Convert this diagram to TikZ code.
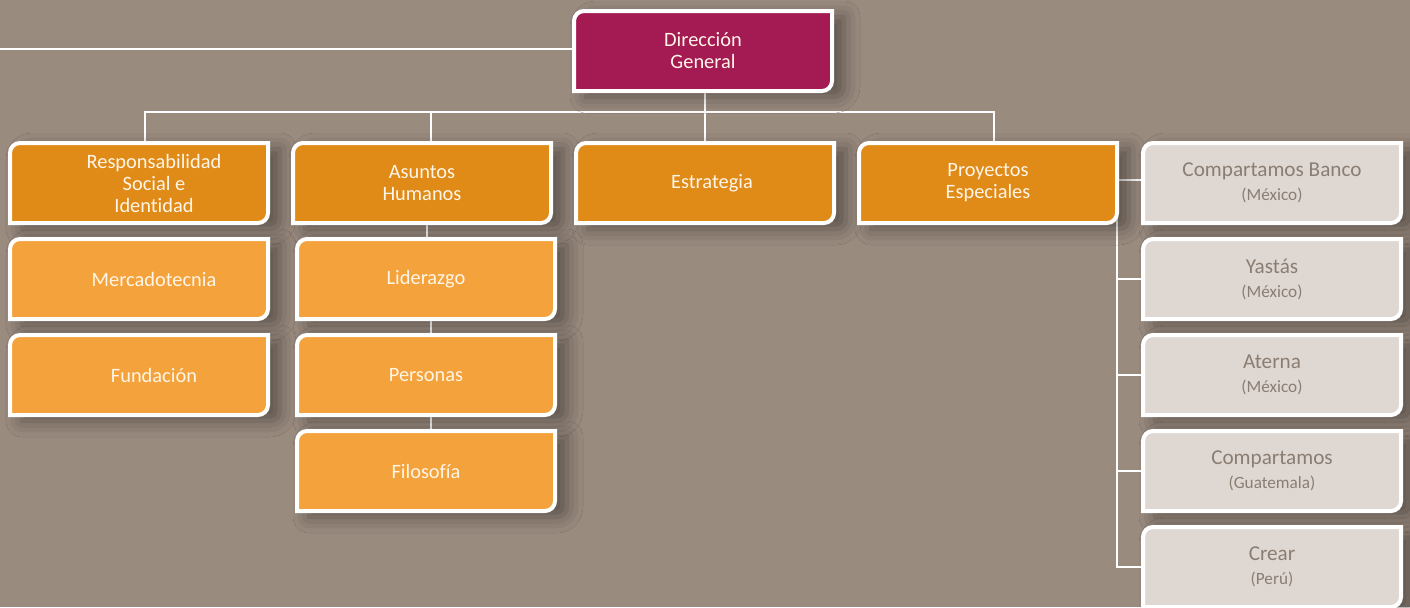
\documentclass[tikz,border=0pt]{standalone}
\usepackage{fontspec}
\setmainfont{Carlito}[Ligatures=NoCommon]
\usetikzlibrary{positioning,backgrounds,shadows.blur}

\definecolor{bgcol}{HTML}{9A8B7F}
\definecolor{dgcol}{HTML}{A41B53}
\definecolor{topcol}{HTML}{E08A18}
\definecolor{subcol}{HTML}{F4A23C}
\definecolor{grcol}{HTML}{DFD8D2}
\definecolor{grtext}{HTML}{8A7D73}
\definecolor{wtext}{HTML}{FFF6E8}

\tikzset{
  unit/.style={minimum width=129pt,minimum height=40pt,inner sep=0pt,outer sep=0pt,
    align=center,text=wtext,font=\fontsize{10.2}{11}\selectfont},
  grunit/.style={unit,text=grtext,font=\fontsize{10.6}{11}\selectfont},
  link/.style={draw=white,line width=1pt},
  boxline/.style={draw=white,line width=2pt,
    blur shadow={shadow xshift=6pt,shadow yshift=-3pt,shadow blur radius=8pt,shadow opacity=40}}
}
\newcommand{\countrytag}[1]{\\[1pt]{\fontsize{8.6}{8.6}\selectfont #1}}
\newcommand{\pushr}{\hspace*{15pt}}

\begin{document}
\begin{tikzpicture}[x=0.5pt,y=-0.5pt,on grid,node distance=48pt and 141.5pt]
  \useasboundingbox (0,0) rectangle (1410,607);
  \coordinate (leftedge) at (0,0);

  % first row
  \node[unit] (rs) at (139,183) {\pushr Responsabilidad\\\pushr Social e\\\pushr Identidad};
  \node[unit] (ah) [right=of rs] {Asuntos\\Humanos};
  \node[unit] (es) [right=of ah] {\hspace*{7pt}Estrategia};
  \node[unit] (pe) [right=of es] {Proyectos\\Especiales};
  \node[unit] (dg) [above=66pt of es, xshift=-1pt] {Dirección\\General};

  % columns below
  \node[unit] (mk) [below=of rs] {\pushr Mercadotecnia};
  \node[unit] (fu) [below=of mk] {\pushr Fundación};
  \node[unit] (li) [below=of ah, xshift=2pt] {Liderazgo};
  \node[unit] (ps) [below=of li] {Personas};
  \node[unit] (fi) [below=of ps] {Filosofía};

  % companies
  \node[grunit] (cb) [right=142pt of pe] {Compartamos Banco\countrytag{(México)}};
  \node[grunit] (ya) [below=of cb] {Yastás\countrytag{(México)}};
  \node[grunit] (at) [below=of ya] {Aterna\countrytag{(México)}};
  \node[grunit] (cg) [below=of at] {Compartamos\countrytag{(Guatemala)}};
  \node[grunit] (cr) [below=of cg] {Crear\countrytag{(Perú)}};

  \begin{scope}[on background layer]
    \fill[bgcol] (0,0) rectangle (1410,607);
    \draw[link] ([yshift=1pt]dg.west) -- ([yshift=1pt]dg.west -| leftedge);
    \draw[link] (dg.south -| es.north) -- ++(0,-10.5pt) coordinate (bar);
    \foreach \n/\s in {rs/3pt,ah/4.5pt,es/0pt,pe/3pt}
      \draw[link] (bar) -| ([xshift=\s]\n.north);
    \draw[link] ([xshift=2.5pt]li.north) -- ([xshift=2.5pt]fi.north);
    \draw[link] ([xshift=2.5pt]ah.south) -- ([xshift=2.5pt]ah.south |- li.north);
    \draw[link] ([yshift=1.5pt]pe.east) -- ([yshift=1.5pt]cb.west);
    \draw[link] ([yshift=1.5pt]pe.east) |- (cr.west);
    \foreach \n in {ya,at,cg}
      \draw[link] (\n.west -| pe.east) -- (\n.west);

    \foreach \n/\c in {dg/dgcol,rs/topcol,ah/topcol,es/topcol,pe/topcol,
        mk/subcol,fu/subcol,li/subcol,ps/subcol,fi/subcol,
        cb/grcol,ya/grcol,at/grcol,cg/grcol,cr/grcol}
      \path[boxline,fill=\c] (\n.south west) -- ([yshift=-5pt]\n.north west)
        arc[start angle=180,end angle=90,radius=5pt] -- (\n.north east)
        -- ([yshift=5pt]\n.south east) arc[start angle=0,end angle=-90,radius=5pt] -- cycle;
  \end{scope}
\end{tikzpicture}
\end{document}
